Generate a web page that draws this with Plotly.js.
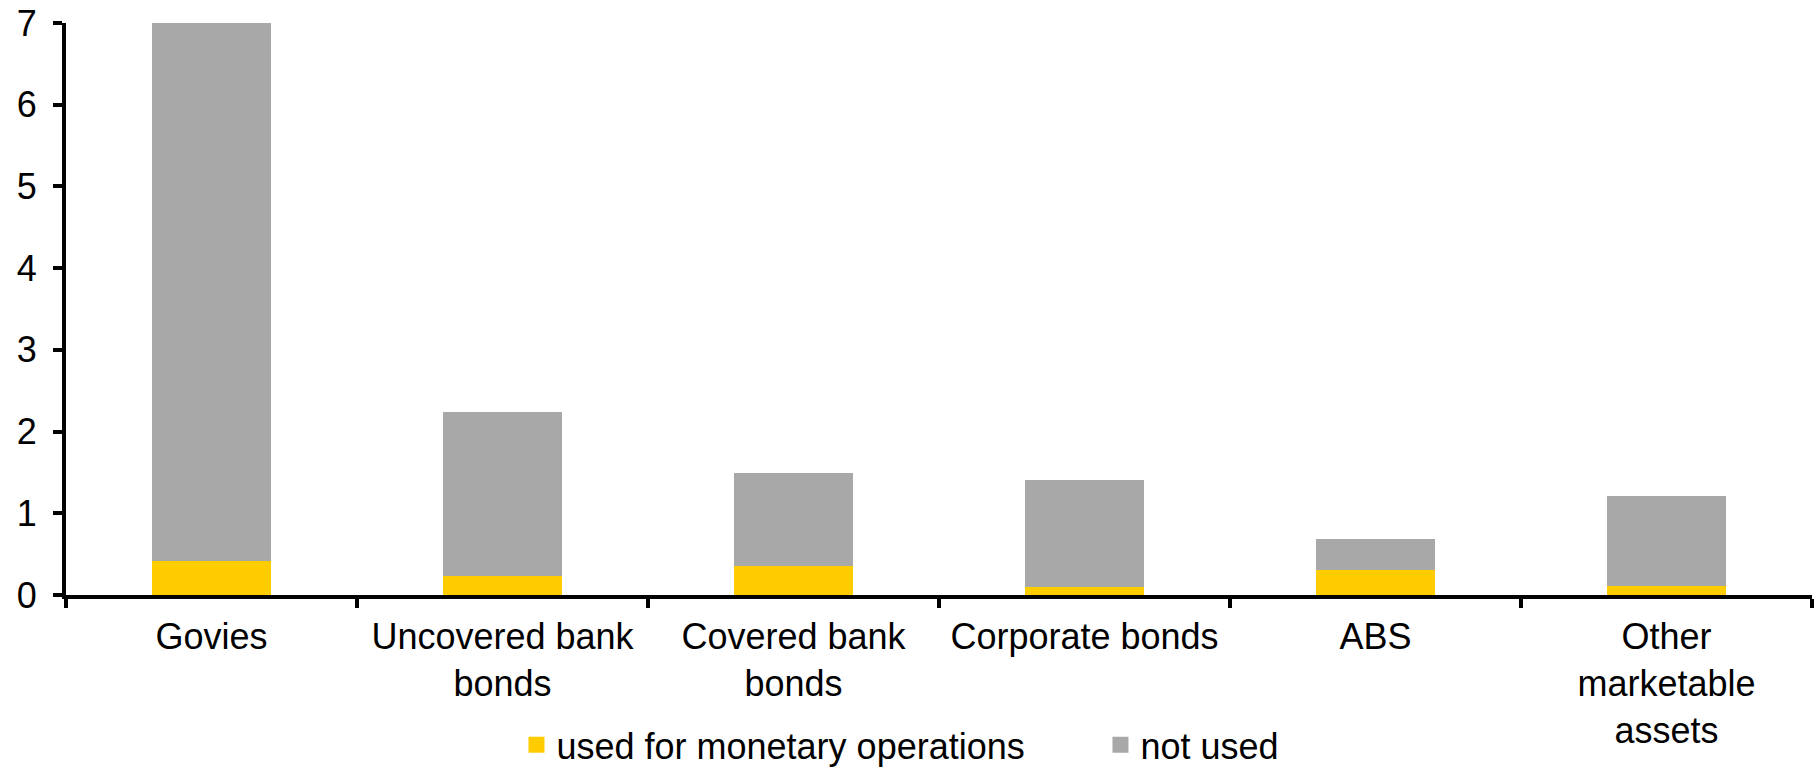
<!DOCTYPE html>
<html>
<head>
<meta charset="utf-8">
<script src="https://cdn.plot.ly/plotly-3.0.1.min.js"></script>
<style>html,body{margin:0;padding:0;background:#fff;}#chart{width:1816px;height:768px;}</style>
</head>
<body>
<div id="chart"></div>
<script>
const categories = ["Govies", "Uncovered bank<br>bonds", "Covered bank<br>bonds", "Corporate bonds", "ABS", "Other<br>marketable<br>assets"];
const usedValues = [0.42, 0.23, 0.36, 0.10, 0.30, 0.11];
const notUsedValues = [6.58, 2.01, 1.13, 1.31, 0.38, 1.10];
const seriesNames = ["used for monetary operations", "not used"];
const seriesColors = ["#FFCC00", "#A8A8A8"];
const yTickValues = [0, 1, 2, 3, 4, 5, 6, 7];

const FONT = "Liberation Sans, Arial, sans-serif";
const FS = 36;

const traces = [
  {type: "bar", name: seriesNames[0], x: categories, y: usedValues, showlegend: false,
   marker: {color: seriesColors[0], line: {width: 0}}, hoverinfo: "skip"},
  {type: "bar", name: seriesNames[1], x: categories, y: notUsedValues, showlegend: false,
   marker: {color: seriesColors[1], line: {width: 0}}, hoverinfo: "skip"},
  // legend entries (square swatches like the reference)
  {type: "scatter", mode: "markers", name: seriesNames[0], x: [null], y: [null], showlegend: true,
   marker: {symbol: "square", size: 19, color: seriesColors[0]}, hoverinfo: "skip"},
  {type: "scatter", mode: "markers", name: seriesNames[1], x: [null], y: [null], showlegend: true,
   marker: {symbol: "square", size: 19, color: seriesColors[1]}, hoverinfo: "skip"}
];

const layout = {
  width: 1816, height: 768,
  margin: {l: 66, r: 4, t: 23, b: 173, autoexpand: false},
  paper_bgcolor: "#fff", plot_bgcolor: "#fff",
  barmode: "stack",
  bargap: 0.594,
  font: {family: FONT, size: FS, color: "#000"},
  showlegend: true,
  legend: {orientation: "h", x: 0.258, xanchor: "left", y: -0.262, yanchor: "middle",
           bgcolor: "rgba(0,0,0,0)",
           font: {family: FONT, size: FS, color: "#000"}, traceorder: "normal",
           entrywidth: 539, entrywidthmode: "pixels"},
  xaxis: {type: "category", showline: true, linecolor: "#000", linewidth: 4,
          ticks: "outside", tickson: "boundaries", ticklen: 9, tickwidth: 4, tickcolor: "#000",
          ticklabelstandoff: 7,
          showgrid: false, zeroline: false, tickangle: 0, automargin: false,
          tickfont: {family: FONT, size: FS, color: "#000"}},
  yaxis: {range: [0, 7], tickvals: yTickValues, showline: true, linecolor: "#000", linewidth: 4,
          ticks: "outside", ticklen: 9, tickwidth: 4, tickcolor: "#000",
          ticklabelstandoff: 9,
          showgrid: false, zeroline: false, automargin: false,
          tickfont: {family: FONT, size: FS, color: "#000"}}
};

Plotly.newPlot("chart", traces, layout, {displayModeBar: false, staticPlot: true});
</script>
</body>
</html>
